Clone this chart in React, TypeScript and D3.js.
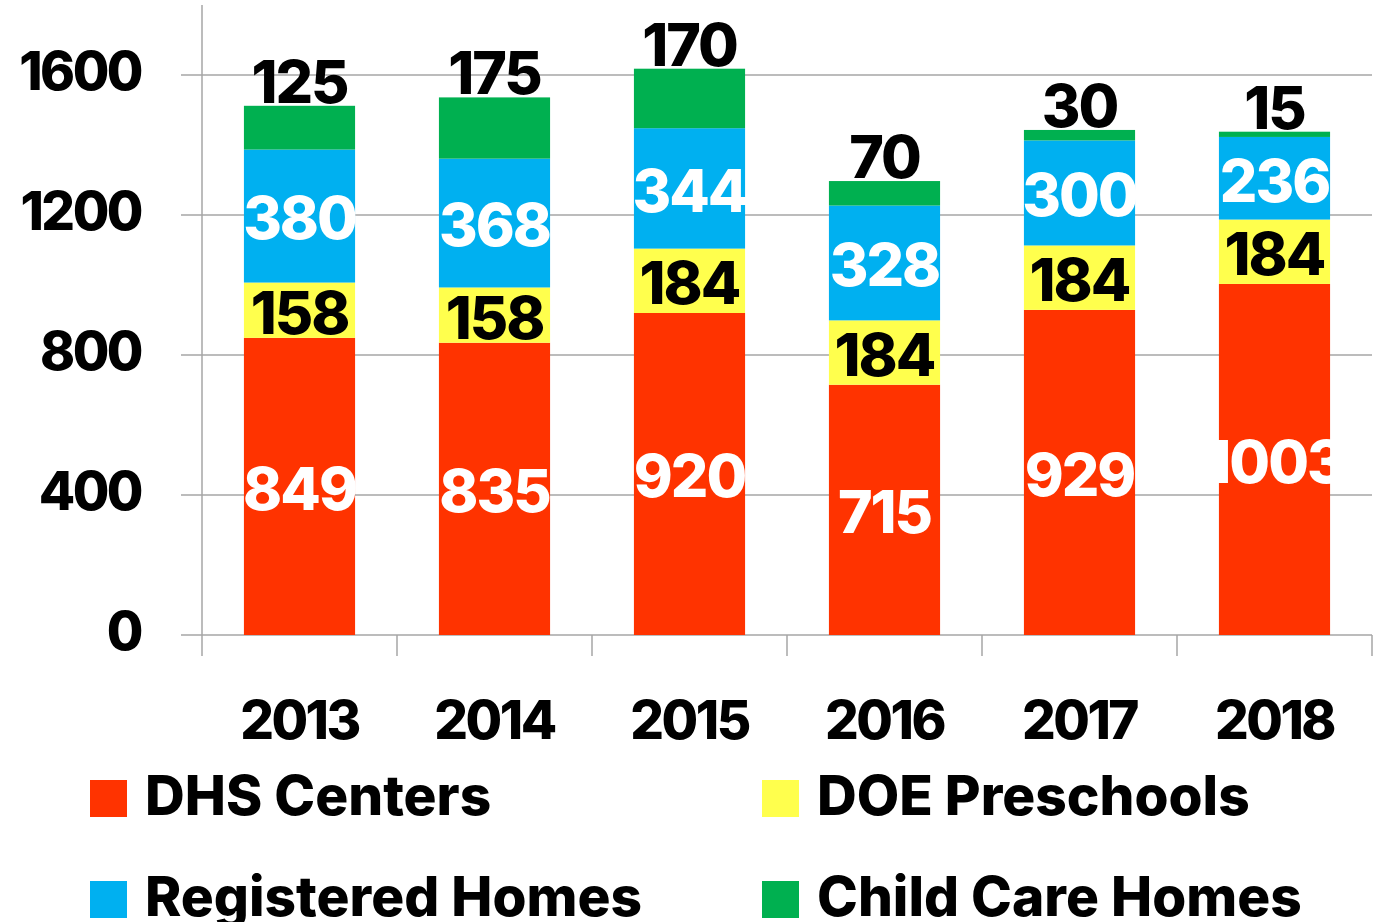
import React from "react";
import * as d3 from "d3";

const years = ["2013", "2014", "2015", "2016", "2017", "2018"];
const dhsCenters = [849, 835, 920, 715, 929, 1003];
const doePreschools = [158, 158, 184, 184, 184, 184];
const registeredHomes = [380, 368, 344, 328, 300, 236];
const childCareHomes = [125, 175, 170, 70, 30, 15];
const yTicks = [0, 400, 800, 1200, 1600];

const seriesNames = ["DHS Centers", "DOE Preschools", "Registered Homes", "Child Care Homes"];
const seriesColors = ["#FF3300", "#FFFF4D", "#00B0F0", "#00B050"];
const labelColors = ["#FFFFFF", "#000000", "#FFFFFF", "#000000"];

const W = 1381;
const H = 922;
const FONT = "Inter, 'DejaVu Sans', sans-serif";
const CAP = 0.727;

export default function App() {
  const x = d3.scaleBand<string>().domain(years).range([202, 1372]).paddingInner(0.43).paddingOuter(0.215);
  const band = d3.scaleBand<string>().domain(years).range([202, 1372]);
  const y = d3.scaleLinear().domain([0, 1800]).range([635, 5]);

  const table = years.map((yr, i) => ({
    year: yr,
    s0: dhsCenters[i],
    s1: doePreschools[i],
    s2: registeredHomes[i],
    s3: childCareHomes[i],
  }));
  const stack = d3.stack<any>().keys(["s0", "s1", "s2", "s3"]);
  const layers = stack(table);

  const gridColor = "#A6A6A6";
  const segFont = 59;
  const segLS = -2;
  const axisFont = 53;
  const axisLS = -2.5;
  const legendFont = 55;

  const legendItems = [
    { i: 0, x: 90, y: 780 },
    { i: 1, x: 762, y: 780 },
    { i: 2, x: 90, y: 881 },
    { i: 3, x: 762, y: 881 },
  ];

  return (
    <svg
      width={W}
      height={H}
      style={{ position: "absolute", left: 0, top: 0, background: "#fff" }}
      fontFamily={FONT}
      fontWeight={800}
    >
      {yTicks.map((t) => (
        <line key={"g" + t} x1={181} x2={1372} y1={y(t)} y2={y(t)} stroke={gridColor} strokeWidth={1.5} />
      ))}
      <line x1={202} x2={202} y1={5} y2={656} stroke={gridColor} strokeWidth={1.5} />
      {years.map((yr) => (
        <line key={"xt" + yr} x1={band(yr)! + band.bandwidth()} x2={band(yr)! + band.bandwidth()} y1={635} y2={656} stroke={gridColor} strokeWidth={1.5} />
      ))}
      {yTicks.map((t) => (
        <text key={"yl" + t} x={141} y={y(t) + (axisFont * CAP) / 2 - 4} textAnchor="end" fontSize={axisFont} letterSpacing={axisLS} fill="#000">
          {t}
        </text>
      ))}
      {layers.map((layer, si) =>
        layer.map((d, i) => (
          <rect
            key={"r" + si + "-" + i}
            x={x(years[i])}
            width={x.bandwidth()}
            y={y(d[1])}
            height={y(d[0]) - y(d[1])}
            fill={seriesColors[si]}
          />
        ))
      )}
      {layers.map((layer, si) =>
        si < 3
          ? layer.map((d, i) => (
              <text
                key={"l" + si + "-" + i}
                x={x(years[i])! + x.bandwidth() / 2}
                y={(y(d[0]) + y(d[1])) / 2 + (segFont * CAP) / 2 + 2}
                textAnchor="middle"
                fontSize={segFont}
                letterSpacing={segLS}
                fill={labelColors[si]}
              >
                {d[1] - d[0]}
              </text>
            ))
          : layer.map((d, i) => (
              <text
                key={"l" + si + "-" + i}
                x={x(years[i])! + x.bandwidth() / 2}
                y={y(d[1]) - 3}
                textAnchor="middle"
                fontSize={segFont}
                letterSpacing={segLS}
                fill="#000"
              >
                {d[1] - d[0]}
              </text>
            ))
      )}
      {years.map((yr) => (
        <text key={"xl" + yr} x={band(yr)! + band.bandwidth() / 2} y={739} textAnchor="middle" fontSize={axisFont} letterSpacing={axisLS} fill="#000">
          {yr}
        </text>
      ))}
      {legendItems.map((it) => (
        <g key={"lg" + it.i}>
          <rect x={it.x} y={it.y} width={37} height={37} fill={seriesColors[it.i]} />
          <text x={it.x + 55} y={it.y + 35} fontSize={legendFont} fill="#000">
            {seriesNames[it.i]}
          </text>
        </g>
      ))}
    </svg>
  );
}
